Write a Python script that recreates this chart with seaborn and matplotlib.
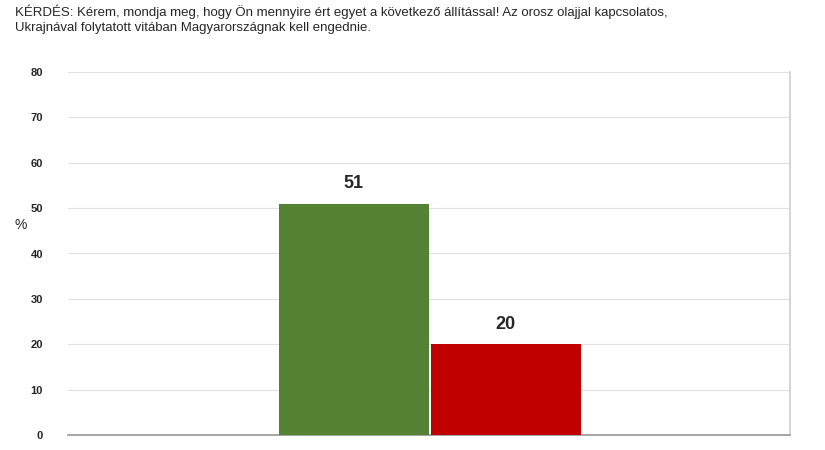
import matplotlib
matplotlib.use("Agg")
import matplotlib.pyplot as plt
import seaborn as sns
import pandas as pd

categories = ["Egyetért", "Nem ért egyet"]
values = [51, 20]
colors = ["#548235", "#C00000"]
yticks = [0, 10, 20, 30, 40, 50, 60, 70, 80]

sns.set_theme(style="white")
plt.rcParams['font.family'] = ['Liberation Sans', 'DejaVu Sans']
fig = plt.figure(figsize=(8.25, 4.5), dpi=100)
ax = fig.add_axes([68/825, 1-435/450, 722/825, 363/450])
df = pd.DataFrame({"cat": categories, "val": values})
sns.barplot(data=df, x="cat", y="val", hue="cat", palette=colors, width=0.99,
            saturation=1, legend=False, ax=ax, zorder=3, linewidth=0)
ax.set_xlim(-1.88, 2.87)
ax.set_ylim(0, 80)
ax.set_yticks(yticks)
ax.set_yticklabels([str(t) for t in yticks], fontsize=8, fontweight="bold")
ax.tick_params(axis="y", length=0, pad=18)
ax.set_xticks([])
ax.set_xlabel("")
ax.set_ylabel("%", rotation=0, fontsize=10)
ax.yaxis.set_label_coords(-0.065, 0.56)
ax.grid(axis="y", color="#e0e0e0", linewidth=0.8, zorder=0)
for s in ["left", "top"]:
    ax.spines[s].set_visible(False)
ax.spines["right"].set_color("#d0d0d0")
ax.spines["bottom"].set_color("#999999")
for p, v in zip(ax.patches, values):
    ax.text(p.get_x() + p.get_width()/2, v + 2.5, str(v), ha="center", va="bottom",
            fontsize=13, fontweight="bold")
fig.text(0.018, 0.99, "KÉRDÉS: Kérem, mondja meg, hogy Ön mennyire ért egyet a következő állítással! Az orosz olajjal kapcsolatos,\nUkrajnával folytatott vitában Magyarországnak kell engednie.",
         ha="left", va="top", fontsize=9.5, linespacing=1.3)
fig.savefig("out.png", dpi=100)
